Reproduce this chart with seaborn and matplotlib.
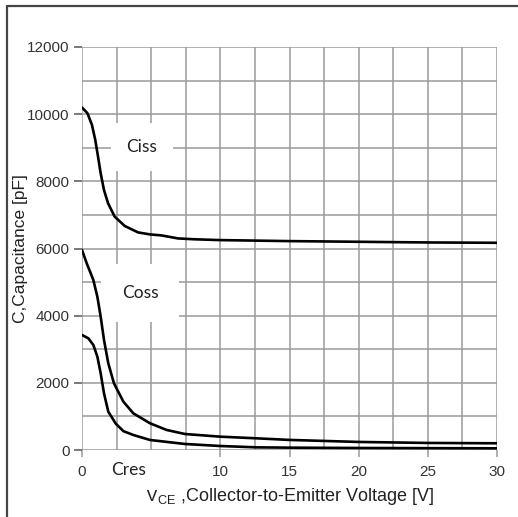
import matplotlib
matplotlib.use("Agg")
import matplotlib.pyplot as plt
from matplotlib.lines import Line2D
from matplotlib.ticker import MultipleLocator
import seaborn as sns

# values
vce_ciss = [0, 0.39, 0.72, 0.96, 1.16, 1.35, 1.59, 1.88, 2.36, 3.09, 4.05, 4.9, 5.74, 6.94, 8.15, 10, 15, 20, 25, 30]
ciss = [10200, 10030, 9680, 9230, 8730, 8240, 7740, 7350, 6950, 6670, 6480, 6420, 6390, 6300, 6274, 6250, 6220, 6200, 6180, 6170]

vce_coss = [0, 0.34, 0.82, 1.11, 1.35, 1.59, 1.9, 2.31, 2.99, 3.71, 4.92, 6.12, 7.45, 10.0, 12.6, 15, 20, 25, 30]
coss = [5956, 5560, 5063, 4565, 3970, 3276, 2582, 1986, 1440, 1092, 795, 596, 476, 397, 348, 300, 240, 210, 200]

vce_cres = [0, 0.46, 0.82, 1.11, 1.35, 1.59, 1.9, 2.45, 3.0, 3.71, 4.92, 7.45, 10.0, 12.6, 15, 20, 25, 30]
cres = [3425, 3325, 3127, 2780, 2284, 1688, 1141, 780, 560, 447, 298, 179, 119, 79, 70, 60, 55, 50]

curve_labels = ["Ciss", "Coss", "Cres"]
x_ticks = [0, 5, 10, 15, 20, 25, 30]
y_ticks = [0, 2000, 4000, 6000, 8000, 10000, 12000]

sns.set_style("white")
plt.rcParams["font.family"] = ["Liberation Sans", "DejaVu Sans"]
plt.rcParams["mathtext.fontset"] = "custom"
plt.rcParams["mathtext.rm"] = "Liberation Sans"

fig = plt.figure(figsize=(5.18, 5.17), dpi=100)
ax = fig.add_axes([82 / 518, 1 - 450 / 517, 415 / 518, 403 / 517])

grid_c = "#9a9a9a"
for vx, vy in [(vce_ciss, ciss), (vce_coss, coss), (vce_cres, cres)]:
    sns.lineplot(x=vx, y=vy, color="black", lw=1.9, ax=ax, zorder=5)

ax.set_xlim(0, 30)
ax.set_ylim(0, 12000)
ax.set_xticks(x_ticks)
ax.set_yticks(y_ticks)
ax.xaxis.set_minor_locator(MultipleLocator(2.5))
ax.yaxis.set_minor_locator(MultipleLocator(1000))
ax.grid(which="both", color=grid_c, lw=1.1)
ax.set_axisbelow(True)
for s in ax.spines.values():
    s.set_visible(False)

ax.tick_params(axis="y", which="major", left=True, length=6, width=1.1,
               color="#555555", pad=3, labelsize=11, labelcolor="#333333")
ax.tick_params(axis="x", which="major", bottom=True, length=5, width=1.1,
               color=grid_c, pad=6, labelsize=11, labelcolor="#333333")
ax.tick_params(which="minor", length=0)

ax.set_xlabel(r"V$_{\mathrm{CE}}$ ,Collector-to-Emitter Voltage [V]",
              fontsize=13, color="#222222", labelpad=5)
ax.set_ylabel("C,Capacitance [pF]", fontsize=12.5, color="#222222")
ax.yaxis.set_label_coords(-0.13, 0.5)

label_pos = [(4.34, 9023, 0.9), (4.19, 4675, 1.2), (3.4, -596, 0.7)]
for txt, (lx, ly, pd) in zip(curve_labels, label_pos):
    ax.text(lx, ly, txt, ha="center", va="center", fontsize=12.5,
            family=["Lato", "DejaVu Sans"], color="#222222", zorder=4,
            clip_on=False,
            bbox=dict(boxstyle=f"square,pad={pd}", fc="white", ec="none"))

# outer frame on the left and top
fig.add_artist(Line2D([7 / 518, 7 / 518], [0, 1 - 6 / 517], color="#444444", lw=1.6))
fig.add_artist(Line2D([7 / 518, 1], [1 - 6 / 517, 1 - 6 / 517], color="#444444", lw=1.6))

fig.savefig("out.png", dpi=100)
